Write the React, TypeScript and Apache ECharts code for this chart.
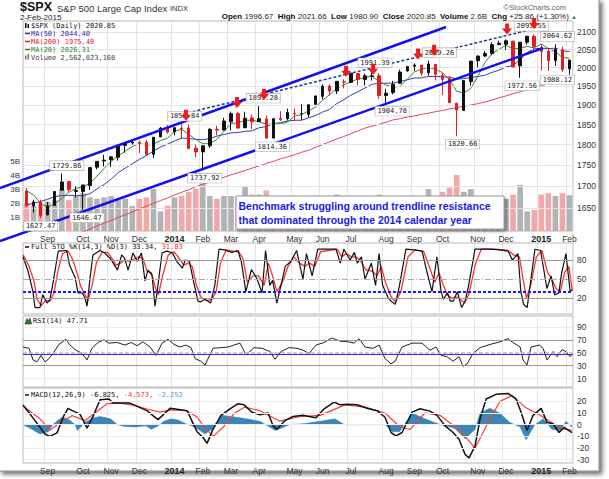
import React, { useEffect, useRef } from "react";
import * as echarts from "echarts";

// ---------- weekly price data (week starting) ----------
const weeks = [
  "2013-08-12","2013-08-19","2013-08-26","2013-09-02","2013-09-09","2013-09-16","2013-09-23","2013-09-30","2013-10-07","2013-10-14","2013-10-21","2013-10-28","2013-11-04","2013-11-11","2013-11-18","2013-11-25","2013-12-02","2013-12-09","2013-12-16","2013-12-23","2013-12-30",
  "2014-01-06","2014-01-13","2014-01-20","2014-01-27","2014-02-03","2014-02-10","2014-02-17","2014-02-24","2014-03-03","2014-03-10","2014-03-17","2014-03-24","2014-03-31","2014-04-07","2014-04-14","2014-04-21","2014-04-28","2014-05-05","2014-05-12","2014-05-19","2014-05-26","2014-06-02","2014-06-09","2014-06-16","2014-06-23","2014-06-30","2014-07-07","2014-07-14","2014-07-21","2014-07-28","2014-08-04","2014-08-11","2014-08-18","2014-08-25","2014-09-01","2014-09-08","2014-09-15","2014-09-22","2014-09-29","2014-10-06","2014-10-13","2014-10-20","2014-10-27","2014-11-03","2014-11-10","2014-11-17","2014-11-24","2014-12-01","2014-12-08","2014-12-15","2014-12-22","2014-12-29",
  "2015-01-05","2015-01-12","2015-01-19","2015-01-26","2015-02-02",
];
const open = [1689,1655,1664,1635,1656,1691,1711,1688,1688,1702,1745,1760,1763,1769,1798,1804,1806,1806,1776,1819,1842,
  1832,1840,1841,1791,1782,1797,1838,1836,1857,1878,1842,1867,1858,1864,1816,1866,1865,1879,1878,1876,1902,1923,1950,1937,1962,1960,1984,1968,1976,1978,1925,1933,1958,1991,2004,2007,1986,2009,1978,1970,1905,1886,1962,2019,2032,2039,2064,2065,2074,2005,2071,2088,
  2054,2046,2020,2050,1996.67];
const high = [1696,1669,1669,1664,1689,1729.86,1711,1700,1704,1745,1759,1775,1771,1798,1802,1813,1810,1811,1819,1844,1849,
  1843,1850.84,1850,1800,1798,1841,1847,1867,1883,1883,1883,1875,1897.28,1873,1865,1884,1891,1891,1902,1901,1924,1955,1955,1963,1968,1985,1984,1984,1991.39,1985,1943,1964,1994,2005,2012,2007,2019.26,2009,1985,1977,1905,1965,2018,2034,2046,2071,2075,2079,2075,2071,2088,2093.55,
  2065,2055,2064.62,2058,2021.66];
const low = [1652,1640,1627.47,1633,1656,1691,1687,1674,1646.47,1692,1740,1747,1746,1761,1780,1800,1779,1772,1767,1819,1827,
  1823,1815,1790,1770,1737.92,1792,1823,1836,1835,1840,1841,1839,1858,1814.36,1816,1859,1860,1859,1862,1868,1902,1915,1925,1929,1944,1958,1952,1952,1965,1916,1904.78,1928,1956,1989,1991,1978,1978,1965,1926,1906,1820.66,1886,1951,2001,2030,2034,2064,2049,2002,1972.56,2064,2046,
  1992,1991,2005,1988.12,1980.9];
const close = [1655,1664,1633,1655,1688,1710,1692,1690,1703,1744,1759,1762,1770,1798,1804,1806,1805,1775,1818,1841,1831,
  1842,1838,1790,1782,1797,1838,1836,1859,1878,1841,1866,1857,1865,1816,1865,1863,1881,1878,1878,1901,1924,1950,1937,1963,1961,1985,1968,1978,1978,1925,1931,1955,1988,2003,2007,1985,2010,1982,1968,1906,1887,1965,2018,2032,2039,2064,2068,2075,2002,2071,2088,2059,
  2045,2019,2051,1995,2020.85];
const volumeB = [2.0,1.8,1.9,2.1,2.2,3.0,2.2,2.5,2.7,2.4,2.3,2.4,2.5,2.2,2.3,1.8,2.3,2.4,3.0,1.4,1.8,
  2.4,2.5,2.8,3.0,3.4,2.5,2.3,2.5,2.5,2.4,3.2,2.6,2.6,2.9,2.4,2.1,2.3,2.3,2.4,2.0,2.1,2.1,2.2,2.6,2.2,1.8,2.1,2.2,2.0,2.6,2.4,2.0,1.9,1.7,2.2,2.3,3.0,2.5,2.8,3.1,4.0,2.8,3.0,2.4,2.2,2.3,1.8,2.3,2.6,3.3,1.4,1.5,
  2.6,2.7,2.5,2.7,2.56];
const ma20 = [1690,1680,1661,1652,1660,1672,1686,1695,1699,1707,1724,1742,1759,1772,1784,1795,1803,1798,1801,1810,1816,
  1833,1838,1825,1813,1802,1802,1813,1833,1853,1854,1861,1861,1857,1851,1851,1852,1856,1872,1875,1885,1895,1913,1928,1944,1953,1962,1969,1973,1977,1962,1953,1947,1950,1969,1988,1996,2001,1996,1986,1967,1936,1932,1944,1976,2014,2038,2051,2062,2052,2054,2059,2055,
  2066,2053,2044,2028,2026.31];
const ma50 = [1657,1661,1665,1670,1676,1679,1679,1679,1678,1683,1694,1704,1717,1732,1743,1753,1764,1773,1784,1794,1801,
  1809,1816,1815,1813,1812,1815,1821,1825,1829,1830,1833,1834,1842,1845,1852,1855,1859,1861,1861,1867,1873,1882,1889,1904,1914,1926,1935,1945,1955,1957,1958,1958,1963,1967,1972,1972,1976,1976,1975,1974,1969,1970,1973,1976,1979,1987,1993,2002,2006,2022,2042,2052,
  2054,2053,2054,2047,2044.4];
const ma200 = [1546,1552,1558,1565,1571,1578,1584,1590,1597,1603,1610,1616,1622,1629,1635,1641,1648,1654,1661,1667,1673,
  1680,1686,1692,1699,1705,1710,1716,1721,1727,1732,1737,1743,1748,1754,1759,1765,1770,1775,1781,1786,1793,1800,1807,1814,1820,1827,1834,1841,1846,1851,1856,1862,1865,1869,1872,1876,1879,1883,1886,1890,1893,1897,1900,1904,1908,1913,1919,1924,1930,1935,1940,1946,
  1951,1957,1962,1967,1975.4];

// ---------- axis ticks ----------
const monthTickIdx = [3,8,12,16,21,25,29,33,38,42,46,51,55,59,64,68,73,77];
const monthTickText = ["Sep","Oct","Nov","Dec","2014","Feb","Mar","Apr","May","Jun","Jul","Aug","Sep","Oct","Nov","Dec","2015","Feb"];
const priceTicks = [1650,1700,1750,1800,1850,1900,1950,2000,2050,2100];
const rsiTicks = [10,30,50,70,90];
const macdTicks = [20,10,0,-10,-20,-30];

// ---------- indicators: [trading day (0..390), value] ----------
const stoK = [[0,85],[3.5,63],[7,31],[8.5,5],[12,5],[14,25],[17,12],[19,17],[21,40],[25,94],[31,95],[33,72],[37,52],[39,28],[42,28],[44,20],[45.4,7],[47.5,51],[49.6,88],[54.6,95],[58,91],[62,82],[64,75],[67,64],[70,88],[72,83],[74.5,64],[78,91],[81,78],[84,91],[86.5,47],[88.6,64],[91.5,56],[93.6,7],[95,28],[98.6,91],[102,94],[106,91],[109,78],[113,67],[115,80],[118,78],[120.5,51],[124,15],[126,14],[129,18],[133,12],[136,40],[139,97],[143,96],[148,92],[152.5,95],[155,75],[158,30],[162,65],[166,50],[169.5,28],[172,95],[175,40],[177,48],[180,12],[186,70],[190,78],[194,95],[198.5,50],[201,90],[205,55],[209,97],[222,97],[225,75],[227.5,97],[232,80],[235,92],[237,75],[240,85],[242.5,50],[247,75],[250,40],[252.5,90],[255,40],[259,20],[261,15],[264,10],[267,40],[271.5,97],[277,96],[283,94],[286,65],[290,30],[293.5,85],[296.5,30],[298,18],[301,28],[303,15],[305,15],[308,30],[311,5],[313.5,15],[316,40],[320.5,97],[331,97],[338,96],[344,94],[347,80],[351,90],[353,30],[355,10],[357.5,5],[363,97],[367,95],[371.5,35],[374.5,55],[377,25],[380,28],[382,60],[385,90],[388,30],[389.5,33.34]];
const stoD = [[0,88],[4,72],[8,45],[10,18],[13,8],[16,16],[19,15],[22,28],[25,65],[28,90],[32,94],[35,82],[38,62],[41,38],[44,25],[46,15],[49,40],[52,75],[56,92],[60,92],[63,83],[66,72],[69,75],[72,80],[75,78],[79,82],[82,85],[85,83],[88,62],[91,60],[94,35],[96,25],[99,55],[103,88],[107,93],[110,85],[114,72],[117,75],[120,70],[123,40],[126,22],[130,16],[134,18],[137,30],[140,75],[144,96],[149,94],[153,93],[156,82],[159,45],[163,55],[167,55],[171,40],[174,75],[177,55],[180,30],[184,45],[188,70],[192,85],[196,75],[200,70],[203,75],[207,70],[211,93],[223,97],[226,85],[229,90],[233,85],[236,85],[239,80],[243,65],[248,62],[251,55],[254,70],[257,45],[261,22],[264,14],[268,30],[273,85],[278,96],[284,94],[288,70],[292,45],[295,60],[298,40],[301,25],[304,20],[307,22],[310,18],[313,12],[316,25],[321,75],[325,97],[335,97],[344,95],[348,88],[352,85],[355,45],[357,20],[360,40],[364,85],[368,95],[372,60],[375,50],[378,35],[381,30],[384,60],[387,70],[389.5,31.83]];
const rsi = [[0,59],[4.3,57],[7.1,39],[9.9,36],[12.8,46],[15.6,36],[18.4,41],[21.3,49],[25.5,63],[30.5,71],[33.3,62],[37.6,54],[41.8,49],[45.4,39],[48.9,57],[53.2,66],[57.4,70],[61,65],[66.7,66],[72.3,62],[76.6,66],[80.9,61],[85.1,67],[90.1,59],[94.3,46],[98.6,65],[102.8,71],[107.1,63],[111.3,59],[115.6,62],[119.1,58],[122,41],[126.2,37],[129.1,31],[134.7,57],[140.4,58],[145.4,59],[149.6,62],[153.9,65],[158.1,47],[163.8,58],[169.5,57],[175.2,52],[178.7,40],[183,52],[188.6,58],[194.3,57],[198.6,54],[202.8,49],[207.8,62],[213.5,66],[219.1,73],[224.8,68],[230.5,67],[234.7,65],[238.3,72],[242.5,59],[248.2,57],[252.5,62],[256.7,41],[261,33],[263.8,37],[268.8,59],[275.9,65],[283,65],[288.6,54],[292.9,59],[296.4,46],[300.7,44],[305,37],[309.2,44],[312,29],[314.9,33],[319.1,49],[324.1,58],[331.2,63],[338.3,67],[344,72],[346.8,67],[352.5,59],[354.6,39],[357.4,31],[360.3,59],[366,62],[368.8,57],[371.6,39],[375.9,52],[378.7,44],[382.3,55],[385.1,52],[387.9,44],[389.3,47.71]];
const macd = [[0,16.8],[5.7,8],[11.3,-1],[15.6,-8],[19.1,-10],[24.1,-7],[29.1,8],[31.9,14],[35,12],[40.4,9],[45.4,-3],[50,8],[54.6,21.4],[61,22],[63.8,18.5],[75.9,18.5],[87.9,12],[95.7,4.3],[104.3,14],[116.3,12],[123.4,-6],[127.7,-11],[130.5,-16],[134.7,-4],[140.4,8],[146.8,13.6],[152.5,18],[156.7,17],[162.4,10.7],[168.1,8.4],[173.8,10],[177.3,-1],[180.1,-4],[185.8,3.5],[191.5,7],[198.6,8],[202.8,7],[207.8,6],[213.5,13.6],[220.6,19.4],[224.8,17],[230.5,17.4],[236.9,17],[244,14],[251.1,12],[256.7,6.4],[261,-6.7],[264.5,-9.6],[268.8,-6.7],[275.9,10.7],[281.6,13.6],[288.6,11.6],[293.6,8],[299.3,-1],[305,-6.7],[309.2,-12.5],[313.5,-25.5],[316.3,-28.4],[320.6,-18],[324.1,5],[328.4,22],[335.4,26],[344,26.7],[349.6,22],[353.2,10.7],[357.4,-5],[361.7,8],[367.4,14],[371.6,2],[375.9,0.6],[380.1,-6.7],[383.7,-2.3],[389.3,-6.825]];
const macdSignal = [[0,16],[12,5],[19.1,-4.5],[27,2],[34.8,7.7],[44,3.6],[59.6,18],[68.8,18.5],[78,16.8],[88,13.4],[97.2,10.8],[104,12.6],[116,12],[123.4,6.6],[129,-3],[135,-10],[142,-2],[150,10],[157,15],[168.1,12],[182.3,3],[196.4,7],[210.6,8],[228.4,17],[242.5,15],[256.7,10],[267.4,-2],[274.5,-4],[285.1,10],[295.7,8],[309.9,-5],[320.6,-20],[331.2,5],[338.3,20],[346.8,25],[356,15],[366.7,8],[377.3,0],[384.4,-4],[389.3,-4.573]];
const macdHist = [[0,0],[5,-3],[12,-8],[18,-6],[21,0],[25,4],[28,6.5],[33,4],[37,0],[38.5,-5],[41,-2],[44,2],[50,6],[55,7],[62,5],[67,0],[72,-1.5],[80,-2],[87,-1],[91,-4],[96,-1],[100,3],[105,5],[110,4],[115,1],[122,-2],[129,-8],[134,-4],[141,8],[154,6],[168,3],[179,-5],[189,0],[200,1],[211,3],[221,5],[228,0],[239,0],[257,0],[262,-6],[267,-6],[276,10],[285,5],[296,0],[306,-3],[313.5,-12],[320.6,-4],[324,10],[331,14],[338,10],[345,2],[352.5,-2],[356.7,-13],[363,0],[369,5],[375,-4],[381,-5],[385,3],[389.3,-2.252]];

// ---------- annotations (anchored in data space) ----------
const hlIdx = [2,5,8,22,25,33,34,49,51,57,61,72,70,75,76];
const hlKind = ["low","high","low","high","low","high","low","high","low","high","low","high","low","high","low"];
const hlDx = [0,5,4,3,2,4,6,3,6,11,6,-3,2,2,-5];
const arrowIdx = [22.62,29.85,33.68,45.32,49.15,55.53,57.8,68.15,71.98];
const arrowPrice = [1873.6,1907,1928,1990,1995.5,2038,2048,2108.6,2124.5];
const trendUpper = [[-3.76,1696],[59.5,2114.5]];
const trendLower = [[-3.76,1577],[73.26,2054.6]];
const trendDashed = [[20.78,1871],[73.54,2117]];

const SANS = "'Liberation Sans', Arial, sans-serif";
const MONO = "'DejaVu Sans Mono', monospace";
const CW = 7 * 0.602;
const tickSet = new Set(monthTickIdx);
const GRIDC = "#e4e4e4";

function monthLabel(_v: string, i: number) {
  const k = monthTickIdx.indexOf(i);
  if (k < 0) return "";
  const t = monthTickText[k];
  return /^\d{4}$/.test(t) ? `{y|${t}}` : t;
}

function catAxis(gridIndex: number, labels: boolean) {
  return {
    type: "category", gridIndex, data: weeks, boundaryGap: true,
    axisLine: { show: false }, axisTick: { show: false },
    axisLabel: labels
      ? { show: true, interval: (i: number) => tickSet.has(i), formatter: monthLabel, fontSize: 8.5, color: "#333", margin: 3, fontFamily: SANS,
          rich: { y: { fontWeight: "bold", fontSize: 9, color: "#222", fontFamily: SANS } } }
      : { show: false },
    splitLine: { show: true, interval: (i: number) => tickSet.has(i), lineStyle: { color: GRIDC, width: 1 } },
  };
}
function valXAxis(gridIndex: number) {
  return { type: "value", gridIndex, min: 0, max: 390, show: false };
}
// lower panel value axes: tick labels are drawn as markLine end labels at the tick values
function rightAxis(gridIndex: number, min: number, max: number) {
  return {
    type: "value", gridIndex, position: "right", min, max,
    axisLine: { show: false }, axisTick: { show: false }, splitLine: { show: false }, axisLabel: { show: false },
  };
}
const tickLabel = { show: true, position: "end", distance: 4, color: "#333", fontSize: 8.5, fontFamily: SANS, formatter: (p: any) => String(p.value) };
const hl = (v: number, color: string, width = 1, type: any = "solid", withLabel = false) => ({
  yAxis: v, lineStyle: { color, width, type, opacity: 1 },
  label: withLabel ? tickLabel : { show: false },
});
const mlBase = { silent: true, symbol: "none", label: { show: false }, animation: false, precision: 2 };

function buildOption() {
  const gridBase = { left: 23, width: 550, show: true, borderColor: "#b5b5b5", borderWidth: 1 };
  return {
    animation: false,
    backgroundColor: "transparent",
    textStyle: { fontFamily: SANS },
    grid: [
      { ...gridBase, top: 21, height: 210 },
      { ...gridBase, top: 243, height: 71 },
      { ...gridBase, top: 316, height: 71 },
      { ...gridBase, top: 388, height: 75 },
    ],
    xAxis: [catAxis(0, true), catAxis(1, false), valXAxis(1), catAxis(2, false), valXAxis(2), catAxis(3, true), valXAxis(3)],
    yAxis: [
      { type: "log", gridIndex: 0, position: "right", min: 1599, max: 2132,
        axisLine: { show: false }, axisTick: { show: false }, splitLine: { show: false },
        axisLabel: { customValues: priceTicks, showMinLabel: true, showMaxLabel: true, formatter: (v: number) => String(Math.round(v)), fontSize: 8.5, color: "#333", margin: 4, fontFamily: SANS } },
      { type: "value", gridIndex: 0, position: "left", min: 0, max: 15, interval: 1,
        axisLine: { show: false }, axisTick: { show: false }, splitLine: { show: false },
        axisLabel: { formatter: (v: number) => (v >= 1 && v <= 5 ? v + "B" : ""), fontSize: 8, color: "#333", margin: 3, fontFamily: SANS } },
      rightAxis(1, -5.2, 106.8),
      rightAxis(2, -2.9, 107),
      rightAxis(3, -32.8, 31.4),
    ],
    series: [
      { type: "line", xAxisIndex: 0, yAxisIndex: 0, data: close, symbol: "none", silent: true, z: 0,
        lineStyle: { opacity: 0 },
        markLine: { ...mlBase, data: priceTicks.map((v) => hl(v, GRIDC)) } },
      { type: "bar", xAxisIndex: 0, yAxisIndex: 1, silent: true, z: 1, barCategoryGap: "20%",
        data: volumeB.map((v, i) => ({ value: v, itemStyle: { color: close[i] >= open[i] ? "#b3b3b3" : "#f1a8aa" } })) },
      { type: "line", xAxisIndex: 0, yAxisIndex: 0, data: ma200, symbol: "none", z: 3, lineStyle: { color: "#e2475a", width: 1 } },
      { type: "line", xAxisIndex: 0, yAxisIndex: 0, data: ma50, symbol: "none", z: 3, lineStyle: { color: "#3b3bab", width: 1 } },
      { type: "line", xAxisIndex: 0, yAxisIndex: 0, data: ma20, symbol: "none", z: 3, lineStyle: { color: "#2f8a2f", width: 1 } },
      { type: "candlestick", xAxisIndex: 0, yAxisIndex: 0, z: 5, barWidth: 3,
        data: weeks.map((_, i) => [open[i], close[i], low[i], high[i]]),
        itemStyle: { color: "#111", color0: "#e31b23", borderColor: "#111", borderColor0: "#e31b23", borderWidth: 1 } },
      // STO
      { type: "line", xAxisIndex: 2, yAxisIndex: 2, data: stoD, symbol: "none", z: 3, lineStyle: { color: "#ff3030", width: 1.3 },
        markLine: { ...mlBase, data: [hl(80, "#999", 1.2, "solid", true), hl(20, "#999", 1.2, "solid", true), hl(50, "#aaa", 1, [6, 2, 1, 2], true), hl(30, "#1a1aff", 2, [3, 2])] } },
      { type: "line", xAxisIndex: 2, yAxisIndex: 2, data: stoK, symbol: "none", z: 4, lineStyle: { color: "#111", width: 1.2 } },
      // RSI
      { type: "line", xAxisIndex: 4, yAxisIndex: 3, data: rsi, symbol: "none", z: 4, lineStyle: { color: "#222", width: 1 },
        markLine: { ...mlBase, data: [
          ...rsiTicks.map((v) => (v === 70 || v === 30 ? hl(v, "#999", 1.2, "solid", true) : v === 50 ? hl(v, "#bbb", 1.5, [4, 2], true) : hl(v, "#ececec", 1, "solid", true))),
          hl(47.71, "#2a2aff", 1.2)] } },
      // MACD
      { type: "line", xAxisIndex: 6, yAxisIndex: 4, data: macdHist, symbol: "none", z: 2,
        lineStyle: { color: "#3a86b6", width: 0.5 }, areaStyle: { color: "#3a86b6", opacity: 1 },
        markLine: { ...mlBase, data: macdTicks.map((v) => hl(v, "#ececec", 1, "solid", true)) } },
      { type: "line", xAxisIndex: 6, yAxisIndex: 4, data: macdSignal, symbol: "none", z: 3, lineStyle: { color: "#ff3b3b", width: 1.2 } },
      { type: "line", xAxisIndex: 6, yAxisIndex: 4, data: macd, symbol: "none", z: 4, lineStyle: { color: "#111", width: 1.5 } },
    ],
  };
}

function txt(x: number, y: number, text: string, font: string, fill: string, align = "left", z = 50) {
  return { type: "text", x, y, z, silent: true, style: { text, font, fill, align, verticalAlign: "middle" } };
}

function buildGraphics(chart: any) {
  const g: any[] = [];
  let xa = chart.convertToPixel({ xAxisIndex: 0 }, 0);
  let xb = chart.convertToPixel({ xAxisIndex: 0 }, 10);
  if (!isFinite(xa) || !isFinite(xb)) { xa = 23 + 550 / 156; xb = xa + 10 * 550 / 78; }
  const step = (xb - xa) / 10;
  const X = (i: number) => xa + i * step;
  const Y = (p: number) => chart.convertToPixel({ yAxisIndex: 0 }, p);

  // frame with shadow
  g.push({ type: "rect", z: -100, silent: true, shape: { x: -1, y: -1, width: 600, height: 472 },
    style: { fill: "#fff", stroke: "#8a8a8a", lineWidth: 1, shadowBlur: 4, shadowOffsetX: 3, shadowOffsetY: 3, shadowColor: "rgba(0,0,0,0.55)" } });

  // header
  g.push(txt(20, 7, "$SPX", `bold 12.5px ${SANS}`, "#111"));
  g.push({ type: "text", x: 57, y: 8, z: 50, silent: true, style: {
    text: "{a|S&P 500 Large Cap Index} {b|INDX}", align: "left", verticalAlign: "middle", font: `9.5px ${SANS}`,
    rich: { a: { font: `9.5px ${SANS}`, fill: "#333" }, b: { font: `7.5px ${SANS}`, fill: "#333" } } } });
  g.push(txt(20, 17.5, "2-Feb-2015", `8px ${SANS}`, "#222"));
  g.push(txt(566, 7, "©StockCharts.com", `7.5px ${SANS}`, "#666", "right"));
  g.push({ type: "text", x: 577, y: 16.5, z: 50, silent: true, style: {
    text: "{b|Open} {n|1996.67}  {b|High} {n|2021.66}  {b|Low} {n|1980.90}  {b|Close} {n|2020.85}  {b|Volume} {n|2.6B}  {b|Chg} {n|+25.86 (+1.30%)} {g|▲}",
    align: "right", verticalAlign: "middle", font: `8px ${SANS}`,
    rich: { b: { font: `bold 8px ${SANS}`, fill: "#111" }, n: { font: `8px ${SANS}`, fill: "#222" }, g: { font: `6px ${SANS}`, fill: "#3a8a3a" } } } });

  // main legend
  const lx = 25, tx = 31;
  g.push({ type: "rect", z: 50, silent: true, shape: { x: lx, y: 23, width: 1.5, height: 5 }, style: { fill: "#111" } });
  g.push({ type: "rect", z: 50, silent: true, shape: { x: lx + 2.5, y: 24, width: 1.5, height: 4 }, style: { fill: "#111" } });
  g.push(txt(tx, 25.5, "$SPX (Daily) 2020.85", `7px ${MONO}`, "#111"));
  const maLeg: [string, string, number][] = [["MA(50) 2044.40", "#2b2bb0", 33.5], ["MA(200) 1975.40", "#e0203a", 41.5], ["MA(20) 2026.31", "#2a8a2a", 49.5]];
  maLeg.forEach(([t, c, y]) => {
    g.push({ type: "line", z: 50, silent: true, shape: { x1: lx, y1: y, x2: lx + 5, y2: y }, style: { stroke: c, lineWidth: 1.5 } });
    g.push(txt(tx, y, t, `7px ${MONO}`, c));
  });
  g.push({ type: "rect", z: 50, silent: true, shape: { x: lx, y: 55.5, width: 1.5, height: 4 }, style: { fill: "#777" } });
  g.push({ type: "rect", z: 50, silent: true, shape: { x: lx + 2.5, y: 54, width: 1.5, height: 5.5 }, style: { fill: "#777" } });
  g.push(txt(tx, 57.5, "Volume 2,562,823,168", `7px ${MONO}`, "#444"));

  // lower legends
  g.push({ type: "line", z: 50, silent: true, shape: { x1: 25, y1: 247, x2: 29, y2: 247 }, style: { stroke: "#111", lineWidth: 1.5 } });
  const sto1 = "Full STO %K(14,3) %D(3) 33.34, ";
  g.push(txt(31, 247, sto1, `7px ${MONO}`, "#111"));
  g.push(txt(31 + sto1.length * CW, 247, "31.83", `7px ${MONO}`, "#ff2a2a"));
  g.push({ type: "polygon", z: 50, silent: true, shape: { points: [[25, 324], [27, 318.5], [28.5, 321], [30, 318], [31.5, 324]] }, style: { fill: "#2e7d32", stroke: "#111", lineWidth: 0.5 } });
  g.push(txt(33, 321, "RSI(14) 47.71", `7px ${MONO}`, "#111"));
  g.push({ type: "line", z: 50, silent: true, shape: { x1: 25, y1: 395, x2: 29, y2: 395 }, style: { stroke: "#111", lineWidth: 1.5 } });
  const m1 = "MACD(12,26,9) -6.825, ", m2 = "-4.573, ";
  g.push(txt(31, 395, m1, `7px ${MONO}`, "#111"));
  g.push(txt(31 + m1.length * CW, 395, m2, `7px ${MONO}`, "#ff2a2a"));
  g.push(txt(31 + (m1.length + m2.length) * CW, 395, "-2.252", `7px ${MONO}`, "#4aa3dc"));

  // trendlines
  const seg = (pts: number[][], color: string, width: number, dash?: number[]) => {
    const [a, b] = pts;
    g.push({ type: "line", z: 40, silent: true, shape: { x1: X(a[0]), y1: Y(a[1]), x2: X(b[0]), y2: Y(b[1]) },
      style: { stroke: color, lineWidth: width, lineDash: dash } });
  };
  seg(trendUpper, "#1010f0", 2.5);
  seg(trendLower, "#1010f0", 2.5);
  seg(trendDashed, "#1b3a8c", 1.5, [3, 2]);

  // high / low labels
  hlIdx.forEach((i, k) => {
    const isHigh = hlKind[k] === "high";
    const v = isHigh ? high[i] : low[i];
    const x = X(i) + hlDx[k];
    const y = Y(v) + (isHigh ? -8 : 8);
    g.push({ type: "text", x, y, z: 65, silent: true, style: {
      text: v.toFixed(2), font: `7px ${MONO}`, fill: "#222", align: "center", verticalAlign: "middle",
      backgroundColor: "#fff", borderColor: "#aaa", borderWidth: 0.6, padding: [1, 2] } });
  });

  // red arrows
  arrowIdx.forEach((i, k) => {
    const cx = X(i), cy = Y(arrowPrice[k]);
    const t = cy - 5.5;
    g.push({ type: "polygon", z: 70, silent: true, shape: { points: [[cx - 2, t], [cx + 2, t], [cx + 2, t + 5], [cx + 5, t + 5], [cx, t + 11], [cx - 5, t + 5], [cx - 2, t + 5]] },
      style: { fill: "#ee1c1c" } });
  });

  // commentary box
  g.push({ type: "rect", z: 80, silent: true, shape: { x: 236, y: 196, width: 268, height: 33 },
    style: { fill: "#fff", stroke: "#999", lineWidth: 1, shadowBlur: 3, shadowOffsetX: 2, shadowOffsetY: 2, shadowColor: "rgba(0,0,0,0.4)" } });
  g.push(txt(238.5, 206, "Benchmark struggling around trendline resistance", `bold 10.5px ${SANS}`, "#1a1aee", "left", 81));
  g.push(txt(238.5, 220, "that dominated through the 2014 calendar year", `bold 10.5px ${SANS}`, "#1a1aee", "left", 81));
  return g;
}

export default function App() {
  const ref = useRef<HTMLDivElement>(null);
  useEffect(() => {
    if (!ref.current) return;
    const chart = echarts.init(ref.current, undefined, { renderer: "svg" });
    chart.setOption(buildOption() as any);
    chart.setOption({ graphic: { elements: buildGraphics(chart) } } as any);
    return () => chart.dispose();
  }, []);
  return <div ref={ref} style={{ position: "fixed", left: 0, top: 0, width: 609, height: 479, background: "#fff" }} />;
}
